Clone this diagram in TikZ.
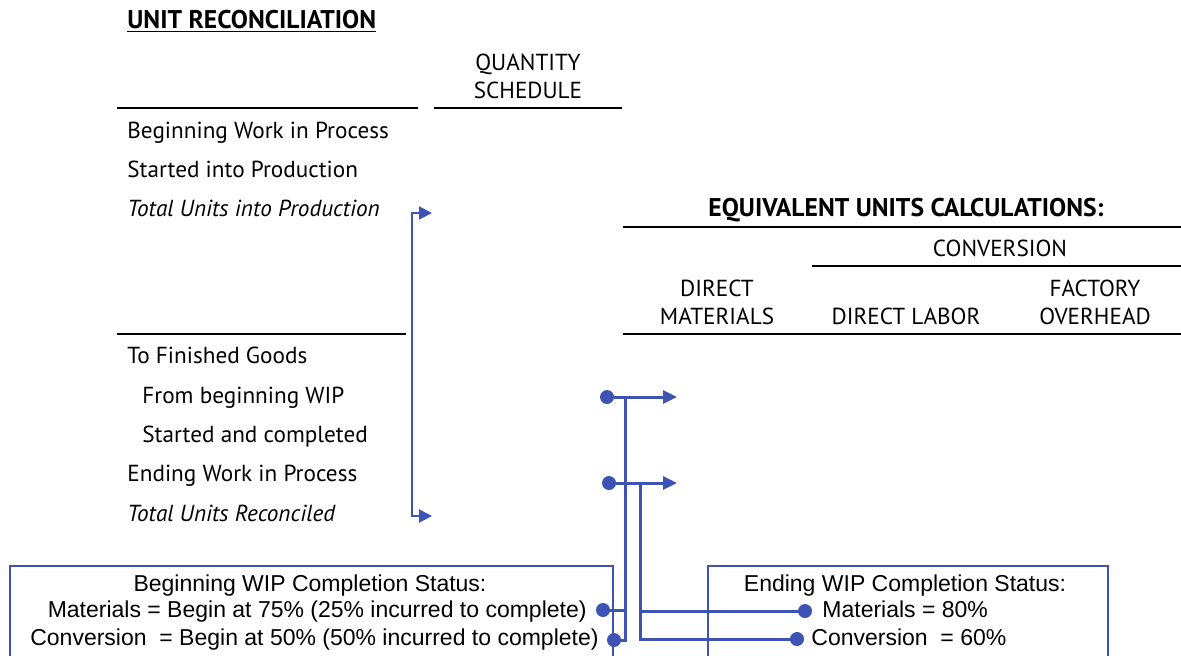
\documentclass[tikz,border=0pt]{standalone}
\usepackage{fontspec}
\setmainfont{PT Sans}
\newfontfamily\statusfont{Liberation Sans}
\usepackage[usenames, dvipsnames]{xcolor}
\usetikzlibrary{arrows.meta}
\definecolor{wipblue}{RGB}{62,84,180}
\tikzset{
  rule/.style={line width=1.3pt},
  lbl/.style={anchor=base west,inner sep=0pt,font=\fontsize{11.6}{14}\selectfont},
  hdr/.style={anchor=base,inner sep=0pt,align=center,font=\fontsize{11.6}{14}\selectfont},
  bighdr/.style={inner sep=0pt,font=\bfseries\fontsize{12.8}{14}\selectfont},
  wire/.style={wipblue,line width=1.5pt},
  dot/.style={circle,fill=wipblue,inner sep=0pt,minimum size=7pt},
  boxline/.style={wipblue,line width=1pt},
  status/.style={inner sep=0pt,font=\statusfont\fontsize{11.5}{13}\selectfont},
  tip/.style={-{Triangle[length=7pt,width=6.5pt]}},
  tips/.style={{Triangle[length=6.5pt,width=6.5pt]}-{Triangle[length=6.5pt,width=6.5pt]}}
}
\begin{document}
\begin{tikzpicture}[x=0.5pt,y=-0.5pt]
\useasboundingbox (0,0) rectangle (1181,655);

% left schedule
\node[bighdr,anchor=base west] (title) at (127,28) {\underline{UNIT RECONCILIATION}};
\node[hdr] (qty) at (528,98) {QUANTITY\\SCHEDULE};
\draw[rule] (117,108)--(418,108);
\draw[rule] (434,108)--(622,108);
\node[lbl] (bwiprow) at (127,138) {Beginning Work in Process};
\node[lbl] (startrow) at (127,177) {Started into Production};
\node[lbl] (totinrow) at (127,216) {\itshape Total Units into Production};
\draw[rule] (117,334)--(406,334);
\node[lbl] (fgrow) at (127,363) {To Finished Goods};
\node[lbl] (fromrow) at (142,403) {From beginning WIP};
\node[lbl] (scrow) at (142,442) {Started and completed};
\node[lbl] (ewiprow) at (127,481) {Ending Work in Process};
\node[lbl] (totrecrow) at (127,521) {\itshape Total Units Reconciled};

% equivalent units
\node[bighdr,anchor=base] (equiv) at (906,216) {EQUIVALENT UNITS CALCULATIONS:};
\draw[rule] (623,227)--(1181,227);
\node[hdr] (conv) at (1000,256) {CONVERSION};
\draw[rule] (812,266)--(1181,266);
\node[hdr] (dm) at (717,324) {DIRECT\\MATERIALS};
\node[hdr] (dl) at (906,324) {DIRECT LABOR};
\node[hdr] (foh) at (1095,324) {FACTORY\\OVERHEAD};
\draw[rule] (623,334)--(1181,334);

% bracket
\coordinate (totin) at (432,213);
\coordinate (totrec) at (432,516);
\draw[wire,line width=1pt,tips] (totin) -- ++(-20,0) |- (totrec);

% status boxes
\draw[boxline] (10,660)--(10,566)--(613,566)--(613,660);
\draw[boxline] (708,660)--(708,566)--(1108,566)--(1108,660);
\node[status,anchor=base] (bhead) at (310,591) {Beginning WIP Completion Status:};
\node[status,anchor=base east] (bmat) at (587,617) {Materials = Begin at 75\% (25\% incurred to complete)};
\node[status,anchor=base east] (bconv) at (599,645) {Conversion\ \ = Begin at 50\% (50\% incurred to complete)};
\node[status,anchor=base] (ehead) at (905,591) {Ending WIP Completion Status:};
\node[status,anchor=base west] (emat) at (822,617) {Materials = 80\%};
\node[status,anchor=base west] (econv) at (811,645) {Conversion\ \ = 60\%};

% dots and wires
\node[dot] (bwip) at (607,397) {};
\node[dot] (ewip) at (609,483) {};
\node[dot] (bmatdot) at (603,610) {};
\node[dot] (bconvdot) at (614,640) {};
\node[dot] (ematdot) at (805,611) {};
\node[dot] (econvdot) at (797,639) {};
\coordinate (bwipend) at (677,397);
\coordinate (ewipend) at (677,483);
\coordinate (bjoin) at (625,397);
\coordinate (ejoin) at (640,483);
\draw[wire,tip] (bwip) -- (bwipend);
\draw[wire,tip] (ewip) -- (ewipend);
\draw[wire] (bconvdot.center) -| (bjoin);
\draw[wire] (bmatdot.center) -- (bmatdot -| bjoin);
\draw[wire] (econvdot.center) -| (ejoin);
\draw[wire] (ematdot.center) -- (ematdot -| ejoin);
\end{tikzpicture}
\end{document}
